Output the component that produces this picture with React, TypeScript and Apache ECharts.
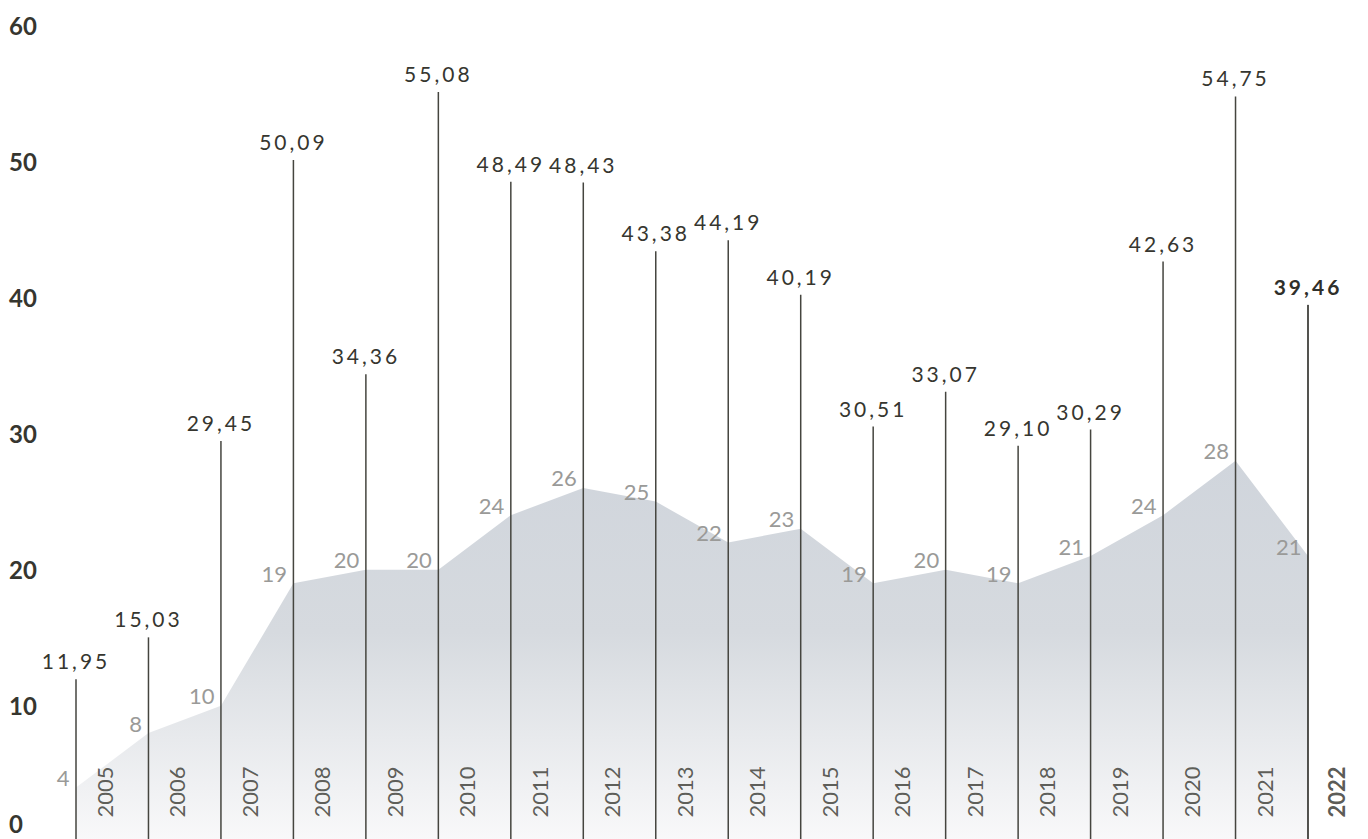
import React, { useEffect, useRef } from "react";
import * as echarts from "echarts";

const years = ["2005","2006","2007","2008","2009","2010","2011","2012","2013","2014","2015","2016","2017","2018","2019","2020","2021","2022"];
const peakValues = [11.95, 15.03, 29.45, 50.09, 34.36, 55.08, 48.49, 48.43, 43.38, 44.19, 40.19, 30.51, 33.07, 29.10, 30.29, 42.63, 54.75, 39.46];
const areaValues = [4, 8, 10, 19, 20, 20, 24, 26, 25, 22, 23, 19, 20, 19, 21, 24, 28, 21];
const yMin = 0;
const yMax = 60;
const yInterval = 10;

const DARK = "#36362f";
const FONT = "Lato, 'Noto Sans', sans-serif";

export default function App() {
  const ref = useRef<HTMLDivElement>(null);
  useEffect(() => {
    if (!ref.current) return;
    const chart = echarts.init(ref.current, undefined, { renderer: "svg" });
    const last = years.length - 1;
    const fmt = (v: number) => v.toFixed(2).replace(".", ",");
    chart.setOption({
      animation: false,
      backgroundColor: "#ffffff",
      grid: { left: 76, right: 60, top: 25, bottom: -3, containLabel: false, outerBoundsMode: "none" },
      xAxis: {
        type: "category",
        data: years,
        boundaryGap: false,
        axisLine: { show: false },
        axisTick: { show: false },
        axisLabel: { show: false },
        splitLine: { show: false },
      },
      yAxis: {
        type: "value",
        min: yMin,
        max: yMax,
        interval: yInterval,
        axisLine: { show: false },
        axisTick: { show: false },
        splitLine: { show: false },
        axisLabel: {
          align: "left",
          margin: 67,
          formatter: (v: number) => (v === 0 ? "{z|0}" : "{n|" + v + "}"),
          rich: {
            n: { color: DARK, fontFamily: FONT, fontWeight: "bold", fontSize: 24 },
            z: { color: DARK, fontFamily: FONT, fontWeight: "bold", fontSize: 24, lineHeight: 24, padding: [0, 0, 37, 0] },
          },
        },
      },
      series: [
        {
          type: "line",
          z: 1,
          data: areaValues,
          symbol: "circle",
          symbolSize: 1,
          itemStyle: { color: "rgba(0,0,0,0)" },
          lineStyle: { width: 0 },
          areaStyle: {
            opacity: 1,
            color: new echarts.graphic.LinearGradient(0, 0, 0, 1, [
              { offset: 0, color: "#d0d5dc" },
              { offset: 0.45, color: "#d6dadf" },
              { offset: 1, color: "#f9f9fa" },
            ]),
          },
          label: {
            show: true,
            position: "left",
            distance: 6,
            offset: [0, -10],
            color: "#9a9a98",
            fontFamily: FONT,
            fontSize: 22,
          },
          clip: false,
        },
        {
          type: "bar",
          z: 3,
          barWidth: 1.5,
          clip: false,
          data: peakValues.map((v, i) =>
            i === last
              ? {
                  value: v,
                  itemStyle: { color: "#2f2f2a", borderColor: "#2f2f2a", borderWidth: 0.8 },
                  label: { fontWeight: "bold", color: "#2f2f2a" },
                }
              : v
          ),
          itemStyle: { color: "#45453f" },
          label: {
            show: true,
            position: "top",
            distance: 8,
            color: DARK,
            fontFamily: FONT,
            fontSize: 21,
            formatter: (p: any) => fmt(p.value),
          },
        },
        {
          type: "scatter",
          z: 4,
          symbolSize: 1,
          itemStyle: { color: "rgba(0,0,0,0)" },
          data: years.map((y, i) =>
            i === last
              ? { value: [y, 0], label: { fontWeight: "bold", color: "#2f2f2a" } }
              : { value: [y, 0] }
          ),
          label: {
            show: true,
            position: [29, -24],
            align: "left",
            verticalAlign: "middle",
            rotate: 90,
            color: DARK,
            fontFamily: FONT,
            fontSize: 22,
            formatter: (p: any) => p.value[0],
          },
          clip: false,
        },
      ],
    });
    // widen the tracking of the value labels like the reference
    const texts = ref.current.querySelectorAll("text");
    texts.forEach((t) => {
      const s = t.textContent || "";
      if (/^\d+,\d\d$/.test(s)) {
        t.setAttribute("letter-spacing", "3");
      }
    });
    return () => chart.dispose();
  }, []);
  return (
    <div
      ref={ref}
      style={{ position: "fixed", left: 0, top: 0, width: 1368, height: 839 }}
    />
  );
}
